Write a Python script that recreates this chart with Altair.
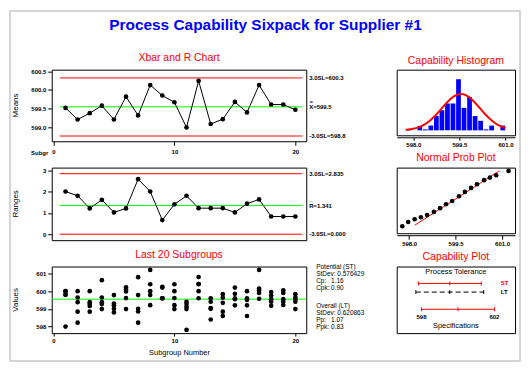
import altair as alt
import numpy as np
import pandas as pd

FONT = "Liberation Sans"
RED, GREEN, BLUE = "#ff0000", "#00ff00", "#0000ff"

# ---------------- data ----------------
subgroups = list(range(1, 21))
xbar_means = [599.52, 599.21, 599.38, 599.58, 599.21, 599.82, 599.32, 600.13, 599.85, 599.67,
              599.00, 600.24, 599.09, 599.22, 599.68, 599.40, 600.13, 599.61, 599.61, 599.47]
subgroup_ranges = [2.00, 1.80, 1.21, 1.61, 1.02, 1.21, 2.58, 2.00, 0.66, 1.40,
                   1.80, 1.22, 1.22, 1.22, 1.02, 1.43, 1.63, 0.83, 0.83, 0.83]
xbar_limits = [600.32, 599.548, 598.77]
xbar_limit_labels = ["3.0SL=600.3", "X=599.5", "-3.0SL=598.8"]
r_limits = [2.835, 1.341, 0.0]
r_limit_labels = ["3.0SL=2.835", "R=1.341", "-3.0SL=0.000"]
limit_colors = [RED, GREEN, RED]

subgroup_values = [
    [600.0, 600.0, 599.8, 599.8, 598.0],
    [600.0, 599.64, 599.38, 598.84, 598.22],
    [600.0, 599.38, 599.27, 599.16, 598.84],
    [600.62, 599.64, 599.38, 599.27, 598.99],
    [599.78, 599.3, 599.2, 599.0, 598.8],
    [600.21, 600.09, 599.98, 599.61, 598.99],
    [600.79, 599.78, 599.0, 598.85, 598.22],
    [601.2, 600.39, 600.0, 599.78, 599.21],
    [600.25, 600.2, 599.6, 599.6, 599.6],
    [600.39, 600.0, 599.61, 599.21, 598.99],
    [599.4, 599.27, 599.12, 598.99, 597.81],
    [600.8, 600.4, 600.4, 600.0, 599.6],
    [599.6, 599.4, 599.05, 599.0, 598.4],
    [599.83, 599.63, 599.34, 598.84, 598.6],
    [600.2, 599.85, 599.6, 599.55, 599.2],
    [600.0, 599.6, 599.5, 599.2, 598.6],
    [601.2, 600.15, 600.05, 599.9, 599.57],
    [599.95, 599.75, 599.55, 599.4, 599.17],
    [600.05, 599.9, 599.55, 599.4, 599.22],
    [599.83, 599.64, 599.51, 599.4, 598.99],
]

hist_centers = [597.85, 598.03, 598.21, 598.39, 598.57, 598.75, 598.93, 599.11, 599.29,
                599.47, 599.65, 599.83, 600.01, 600.19, 600.37, 600.55, 600.73, 600.91]
hist_heights = [0.3, 0.0, 1.3, 0.3, 1.4, 4.2, 5.9, 7.9, 7.9,
                15.0, 6.6, 9.8, 4.2, 2.8, 0.3, 1.4, 0.0, 1.4]
process_mean = 599.548
stdev_st = 0.576429
stdev_lt = 0.620863
curve_area = 16.6

npp_values = [597.78, 597.97, 598.18, 598.38, 598.58, 598.80, 599.00, 599.19, 599.39,
              599.61, 599.80, 600.00, 600.19, 600.42, 600.61, 600.81, 601.21]
npp_scores = [-2.36, -1.97, -1.72, -1.54, -1.33, -1.05, -0.71, -0.35, -0.05,
              0.38, 0.78, 1.14, 1.48, 1.85, 2.09, 2.30, 2.70]
npp_fit_x = [598.18, 600.91]
npp_fit_score = [-2.27, 2.70]

cap_names = ["ST", "LT", "Spec"]
cap_lo = [597.83, 597.69, 598.0]
cap_mid = [599.55, 599.55, 600.0]
cap_hi = [601.28, 601.41, 602.0]
cap_row = [17, 25.7, 43]
cap_colors = [RED, "black", RED]
spec_labels = ["598", "602"]
spec_label_x = [598.0, 602.0]

stats_labels = ["Potential (ST)", "StDev: 0.576429", "Cp:", "Cpk:",
                "Overall (LT)", "StDev: 0.620863", "Pp:", "Ppk:"]
stats_values = ["", "", "1.16", "0.90", "", "", "1.07", "0.83"]
stats_y = [0, 7.5, 14.5, 21.5, 39.5, 46.5, 53.5, 60.5]

# ---------------- layout constants ----------------
W_L, W_R = 256, 119
H_A, H_B, H_C = 72, 73, 67
H_D, H_E, H_F = 66, 66, 67
B_TOP = 165.5  # page y of the R-chart plot area

one = pd.DataFrame({"k": [0]})


def txt(**kw):
    d = dict(font=FONT, fontSize=6, fontWeight="bold", color="black",
             align="left", baseline="middle")
    d.update(kw)
    return d


def yaxis(values, fmt):
    return alt.Axis(values=values, format=fmt, title=None, domain=False,
                    tickSize=4, labelPadding=2)


def ytitle(text, h):
    return alt.Chart(one).mark_text(**txt(text=text, fontSize=8, fontWeight="normal",
                                          align="center", angle=270)).encode(
        x=alt.value(-36), y=alt.value(h / 2))


x_sub = alt.Scale(domain=[-0.14, 20.9], nice=False, zero=False)

# ---------------- Xbar chart ----------------
xbar_df = pd.DataFrame({"sub": subgroups, "mean": xbar_means})
xbar_lim_df = pd.DataFrame({"mean": xbar_limits, "label": xbar_limit_labels,
                            "color": limit_colors})
y_a = alt.Scale(domain=[598.63, 600.54], nice=False, zero=False)
axis_x_a = alt.Axis(values=[0, 10, 20], title="Subgr", titleX=-4, titleY=11,
                    titleAlign="right", titleBaseline="middle", titleAngle=0,
                    titleFontSize=6, titleFontWeight="bold", domain=False,
                    tickSize=4, labelPadding=3)
X_a = alt.X("sub:Q", scale=x_sub, axis=axis_x_a)
Y_a = alt.Y("mean:Q", scale=y_a, axis=yaxis([599.0, 599.5, 600.0, 600.5], ".1f"))

rules_a = alt.Chart(xbar_lim_df).mark_rule(strokeWidth=1).encode(
    y=Y_a, x=alt.value(8), x2=alt.value(252), color=alt.Color("color:N", scale=None))
line_a = alt.Chart(xbar_df).mark_line(color="black", strokeWidth=1).encode(x=X_a, y=Y_a)
pts_a = alt.Chart(xbar_df).mark_circle(color="black", size=22, opacity=1).encode(x=X_a, y=Y_a)
lab_a = alt.Chart(xbar_lim_df).mark_text(**txt()).encode(
    y=Y_a, x=alt.value(259), text="label:N")
bar_a = alt.Chart(pd.DataFrame({"mean": [xbar_limits[1]]})).mark_text(
    **txt(text="=", align="center", dy=-5)).encode(y=Y_a, x=alt.value(261))

chart_a = alt.layer(rules_a, line_a, pts_a, lab_a, bar_a, ytitle("Means", H_A)).properties(
    width=W_L, height=H_A, title=alt.TitleParams("Xbar and R Chart", offset=5))

# ---------------- R chart (also carries page frame and main title) ----------------
r_df = pd.DataFrame({"sub": subgroups, "range": subgroup_ranges})
r_lim_df = pd.DataFrame({"range": r_limits, "label": r_limit_labels, "color": limit_colors})
y_b = alt.Scale(domain=[-0.28, 3.12], nice=False, zero=False)
X_b = alt.X("sub:Q", scale=x_sub, axis=None)
Y_b = alt.Y("range:Q", scale=y_b, axis=yaxis([0, 1, 2, 3], "d"))

frame = alt.Chart(one).mark_rect(fillOpacity=0, stroke="#c8c8c8", strokeWidth=1.5).encode(
    x=alt.value(-42), x2=alt.value(471), y=alt.value(8 - B_TOP), y2=alt.value(360 - B_TOP))
main_title = alt.Chart(one).mark_text(
    text="Process Capability Sixpack for Supplier #1", font=FONT, fontSize=15.5,
    fontWeight="bold", color=BLUE, align="center", baseline="middle").encode(
    x=alt.value(215), y=alt.value(22 - B_TOP))

rules_b = alt.Chart(r_lim_df).mark_rule(strokeWidth=1).encode(
    y=Y_b, x=alt.value(8), x2=alt.value(252), color=alt.Color("color:N", scale=None))
line_b = alt.Chart(r_df).mark_line(color="black", strokeWidth=1).encode(x=X_b, y=Y_b)
pts_b = alt.Chart(r_df).mark_circle(color="black", size=22, opacity=1).encode(x=X_b, y=Y_b)
lab_b = alt.Chart(r_lim_df).mark_text(**txt()).encode(
    y=Y_b, x=alt.value(259), text="label:N")
bar_b = alt.Chart(pd.DataFrame({"range": [r_limits[1]]})).mark_text(
    **txt(text="_", dy=-6.5)).encode(y=Y_b, x=alt.value(259))
chart_b = alt.layer(frame, main_title, rules_b, line_b, pts_b, lab_b, bar_b,
                    ytitle("Ranges", H_B)).properties(width=W_L, height=H_B)

# ---------------- Last 20 subgroups ----------------
vals_df = pd.DataFrame([(s, v) for s, vs in zip(subgroups, subgroup_values) for v in vs],
                       columns=["sub", "value"])
y_c = alt.Scale(domain=[597.63, 601.39], nice=False, zero=False)
axis_x_c = alt.Axis(values=[0, 10, 20], title="Subgroup Number", titleFontSize=7.5,
                    titleFontWeight="normal", titleX=W_L / 2, titleY=19,
                    titleBaseline="middle", titleAlign="center",
                    domain=False, tickSize=3, labelPadding=1)
X_c = alt.X("sub:Q", scale=x_sub, axis=axis_x_c)
Y_c = alt.Y("value:Q", scale=y_c, axis=yaxis([598, 599, 600, 601], "d"))
center_c = alt.Chart(pd.DataFrame({"value": [process_mean]})).mark_rule(
    color=GREEN, strokeWidth=1).encode(y=Y_c)
pts_c = alt.Chart(vals_df).mark_circle(color="black", size=22, opacity=1).encode(x=X_c, y=Y_c)
stats_layers = []
for lab, val, yy in zip(stats_labels, stats_values, stats_y):
    stats_layers.append(alt.Chart(one).mark_text(**txt(text=lab, fontSize=6.5, fontWeight="normal")).encode(
        x=alt.value(266), y=alt.value(yy)))
    if val:
        stats_layers.append(alt.Chart(one).mark_text(**txt(text=val, fontSize=6.5, fontWeight="normal")).encode(
            x=alt.value(281), y=alt.value(yy)))
chart_c = alt.layer(center_c, pts_c, ytitle("Values", H_C), *stats_layers).properties(
    width=W_L, height=H_C, title=alt.TitleParams("Last 20 Subgroups", offset=3))

# ---------------- Capability histogram ----------------
hist_df = pd.DataFrame({"center": hist_centers, "count": hist_heights})
hist_df["lo"] = hist_df["center"] - 0.077
hist_df["hi"] = hist_df["center"] + 0.077
hist_df["base"] = 0.0
x_d = alt.Scale(domain=[597.46, 601.31], nice=False, zero=False)
y_d = alt.Scale(domain=[-1.45, 17.8], nice=False, zero=False)
axis_x_d = alt.Axis(values=[598.0, 599.5, 601.0], format=".1f", title=None, offset=2,
                    domain=True, tickSize=3, labelPadding=1)
X_d = alt.X("lo:Q", scale=x_d, axis=axis_x_d)
Y_d = alt.Y("count:Q", scale=y_d, axis=None)
bars_d = alt.Chart(hist_df).mark_rect(color=BLUE).encode(x=X_d, x2="hi:Q", y=Y_d, y2="base:Q")
curve_x = np.linspace(597.75, 601.0, 120)
curve_y = curve_area * np.exp(-0.5 * ((curve_x - process_mean) / stdev_lt) ** 2) / (stdev_lt * np.sqrt(2 * np.pi))
curve_df = pd.DataFrame({"lo": curve_x, "count": curve_y})
curve_d = alt.Chart(curve_df).mark_line(color=RED, strokeWidth=2).encode(x=X_d, y=Y_d)
chart_d = alt.layer(bars_d, curve_d).properties(
    width=W_R, height=H_D, title=alt.TitleParams("Capability Histogram", offset=3))

# ---------------- Normal probability plot ----------------
x_e = alt.Scale(domain=[597.6, 601.42], nice=False, zero=False)
y_e = alt.Scale(domain=[-3, 3], nice=False, zero=False)
axis_x_e = alt.Axis(values=[598.0, 599.5, 601.0], format=".1f", title=None, offset=2,
                    domain=True, tickSize=4, labelPadding=1)
X_e = alt.X("v:Q", scale=x_e, axis=axis_x_e)
Y_e = alt.Y("z:Q", scale=y_e, axis=None)
npp_df = pd.DataFrame({"v": npp_values, "z": npp_scores})
fit_df = pd.DataFrame({"v": npp_fit_x, "z": npp_fit_score})
fit_e = alt.Chart(fit_df).mark_line(color=RED, strokeWidth=1).encode(x=X_e, y=Y_e)
pts_e = alt.Chart(npp_df).mark_circle(color="black", size=22, opacity=1).encode(x=X_e, y=Y_e)
chart_e = alt.layer(fit_e, pts_e).properties(
    width=W_R, height=H_E, title=alt.TitleParams("Normal Prob Plot", offset=4))

# ---------------- Capability plot ----------------
x_f = alt.Scale(domain=[596.64, 603.13], nice=False, zero=False)
y_f = alt.Scale(domain=[0, 67], reverse=True, nice=False, zero=False)
cap_df = pd.DataFrame({"name": cap_names, "lo": cap_lo, "mid": cap_mid, "hi": cap_hi,
                       "row": cap_row, "color": cap_colors})
tick_rows = []
for n, lo, mid, hi, r, c in zip(cap_names, cap_lo, cap_mid, cap_hi, cap_row, cap_colors):
    for xv in (lo, mid, hi):
        tick_rows.append({"name": n, "x": xv, "t1": r - 2, "t2": r + 2, "color": c})
tick_df = pd.DataFrame(tick_rows)
fx = lambda f: alt.X(f, scale=x_f, axis=None)
fy = lambda f: alt.Y(f, scale=y_f, axis=None)
solid_f = alt.Chart(cap_df[cap_df["name"] != "LT"]).mark_rule(strokeWidth=1).encode(
    x=fx("lo:Q"), x2="hi:Q", y=fy("row:Q"), color=alt.Color("color:N", scale=None))
dash_f = alt.Chart(cap_df[cap_df["name"] == "LT"]).mark_rule(strokeWidth=1, strokeDash=[5, 3]).encode(
    x=fx("lo:Q"), x2="hi:Q", y=fy("row:Q"), color=alt.Color("color:N", scale=None))
ticks_f = alt.Chart(tick_df).mark_rule(strokeWidth=1).encode(
    x=fx("x:Q"), y=fy("t1:Q"), y2="t2:Q", color=alt.Color("color:N", scale=None))
st_lt_df = pd.DataFrame({"x": [602.35, 602.35], "row": cap_row[:2], "name": cap_names[:2],
                         "color": cap_colors[:2]})
stlt_f = alt.Chart(st_lt_df).mark_text(**txt()).encode(
    x=fx("x:Q"), y=fy("row:Q"), text="name:N", color=alt.Color("color:N", scale=None))
spec_df = pd.DataFrame({"x": spec_label_x, "row": [51, 51], "label": spec_labels})
spec_f = alt.Chart(spec_df).mark_text(**txt(align="center")).encode(
    x=fx("x:Q"), y=fy("row:Q"), text="label:N")
pt_f = alt.Chart(one).mark_text(**txt(text="Process Tolerance", fontSize=7.5, fontWeight="normal",
                                      align="center")).encode(x=alt.value(W_R / 2), y=alt.value(5.7))
sp_f = alt.Chart(one).mark_text(**txt(text="Specifications", fontSize=7.5, fontWeight="normal",
                                      align="center")).encode(x=alt.value(W_R / 2), y=alt.value(60.3))
chart_f = alt.layer(solid_f, dash_f, ticks_f, stlt_f, spec_f, pt_f, sp_f).properties(
    width=W_R, height=H_F, title=alt.TitleParams("Capability Plot", offset=4))

# ---------------- assemble ----------------
chart = alt.concat(chart_a, chart_d, chart_b, chart_e, chart_c, chart_f, columns=2,
                   spacing={"row": 26.5, "column": 91}, bounds="flush").properties(
    padding=0, background="white"
).configure_view(stroke="black", strokeWidth=1).configure_axis(
    labelFont=FONT, titleFont=FONT, labelColor="black", titleColor="black",
    tickColor="black", domainColor="black", grid=False, labelFontSize=6,
    labelFontWeight="bold", titleFontWeight="normal"
).configure_title(font=FONT, color=RED, fontSize=10.5, fontWeight="normal", anchor="middle")

chart.save("out.html", embed_options={"renderer": "svg", "actions": False})
